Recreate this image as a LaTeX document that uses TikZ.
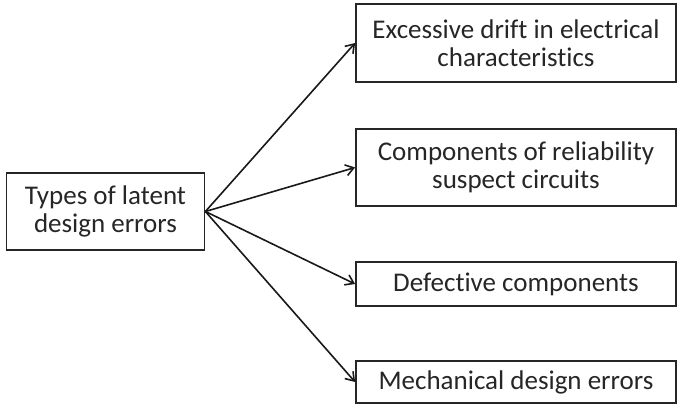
\documentclass[tikz,border=0pt]{standalone}
\usepackage{fontspec}
\setmainfont{Carlito}[Ligatures=NoCommon]
\usetikzlibrary{arrows.meta}
\begin{document}
\begin{tikzpicture}[x=1pt,y=-1pt,
  box/.style={draw=black!85, line width=1.8pt, align=center, inner sep=0pt,
    font=\fontsize{27}{28}\selectfont, text=black!85},
  link/.style={line width=1.6pt, draw=black!90, -{Straight Barb[length=8pt,width=11pt]}}]
  \useasboundingbox (0,0) rectangle (680,404);
  \node[box, minimum width=198pt, minimum height=77pt] (src) at (105.5,211.5)
    {Types of latent\\design errors};
  \node[box, minimum width=320pt, minimum height=78pt] (t1) at (516,43)
    {Excessive drift in electrical\\characteristics};
  \node[box, minimum width=320pt, minimum height=77pt] (t2) at (516,167.5)
    {Components of reliability\\suspect circuits};
  \node[box, minimum width=320pt, minimum height=44pt] (t3) at (516,284)
    {Defective components};
  \node[box, minimum width=320pt, minimum height=42pt] (t4) at (516,382)
    {Mechanical design errors};
  \foreach \t in {t1,t2,t3,t4}
    \draw[link] (src.east) -- (\t.west);
\end{tikzpicture}
\end{document}
